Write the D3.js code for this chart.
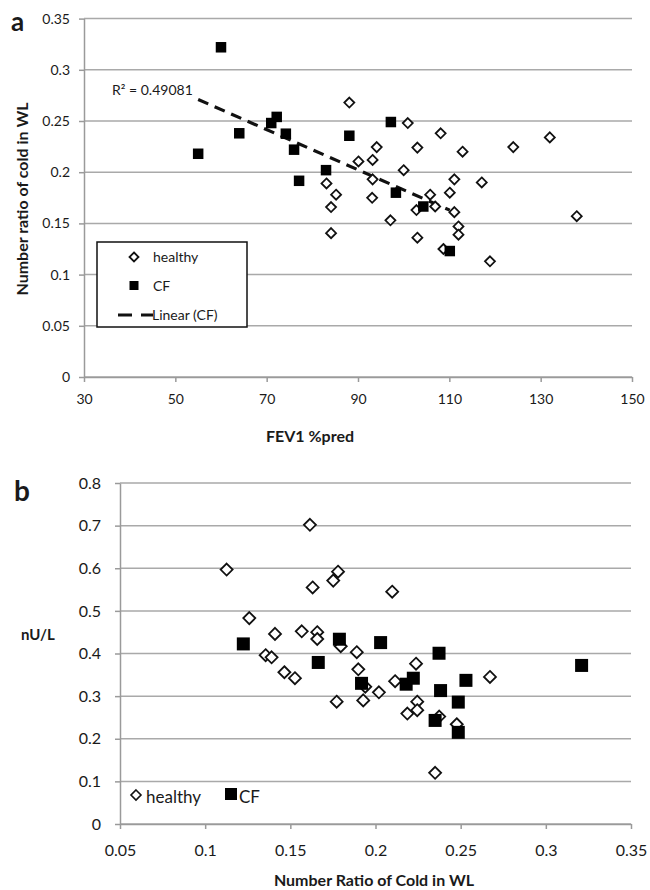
<!DOCTYPE html>
<html>
<head>
<meta charset="utf-8">
<script src="https://cdn.jsdelivr.net/npm/d3@7/dist/d3.min.js"></script>
<style>
  html, body { margin: 0; padding: 0; background: #fff; }
  svg { display: block; }
  text { font-family: Lato, "Open Sans", sans-serif; fill: #1a1a1a; }
</style>
</head>
<body>
<svg id="chart" width="650" height="890"></svg>
<script>
// ---------- Data (panel a) ----------
const fevTicks = [30, 50, 70, 90, 110, 130, 150];
const ratioTicksA = [0, 0.05, 0.1, 0.15, 0.2, 0.25, 0.3, 0.35];

const healthyFev   = [88.1, 100.9, 94.1, 103.0, 90.1, 93.2, 100.0, 83.1, 93.2, 85.2, 84.1, 84.1, 93.1, 97.1, 103.0, 102.8, 105.8, 108.1, 112.9, 124.0, 132.0, 111.1, 117.1, 110.1, 106.9, 111.1, 112.0, 112.0, 108.7, 118.9, 137.9];
const healthyRatio = [0.268, 0.248, 0.2245, 0.224, 0.2105, 0.212, 0.202, 0.189, 0.193, 0.178, 0.166, 0.1405, 0.175, 0.153, 0.136, 0.163, 0.178, 0.238, 0.220, 0.2245, 0.234, 0.193, 0.190, 0.180, 0.1665, 0.161, 0.147, 0.139, 0.125, 0.113, 0.157];

const cfFev   = [60, 55, 64, 71, 72.2, 74.2, 76, 77.1, 83, 88.1, 97.2, 98.3, 104.3, 110.1];
const cfRatio = [0.322, 0.218, 0.238, 0.248, 0.254, 0.2376, 0.222, 0.1916, 0.202, 0.2356, 0.249, 0.180, 0.1665, 0.123];

const r2Label = "R\u00B2 = 0.49081";

// ---------- Data (panel b) ----------
const ratioTicksB = [0.05, 0.1, 0.15, 0.2, 0.25, 0.3, 0.35];
const nuTicks = [0, 0.1, 0.2, 0.3, 0.4, 0.5, 0.6, 0.7, 0.8];

const healthyRatioB = [0.1126, 0.1615, 0.1631, 0.1259, 0.141, 0.1567, 0.1658, 0.1658, 0.1355, 0.139, 0.1465, 0.1527, 0.178, 0.1752, 0.2098, 0.1796, 0.189, 0.1899, 0.1772, 0.1928, 0.202, 0.2115, 0.2238, 0.2245, 0.2245, 0.2187, 0.2374, 0.2672, 0.2477, 0.235, 0.194];
const healthyNu     = [0.597, 0.702, 0.555, 0.483, 0.446, 0.452, 0.450, 0.434, 0.396, 0.391, 0.356, 0.342, 0.592, 0.571, 0.545, 0.417, 0.403, 0.363, 0.287, 0.290, 0.309, 0.335, 0.376, 0.287, 0.267, 0.259, 0.252, 0.345, 0.234, 0.120, 0.322];

const cfRatioB = [0.1224, 0.1664, 0.1788, 0.203, 0.1918, 0.218, 0.2222, 0.2373, 0.2382, 0.235, 0.2486, 0.2531, 0.2486, 0.321];
const cfNu     = [0.4225, 0.379, 0.4335, 0.4256, 0.330, 0.328, 0.342, 0.4006, 0.313, 0.243, 0.286, 0.337, 0.215, 0.372];

// ---------- Drawing ----------
const svg = d3.select("#chart");
const gridColor = "#a9a9a9";
const axisColor = "#9a9a9a";

function diamondPath(r) { return `M0,${-r}L${r},0L0,${r}L${-r},0Z`; }

function drawFrame(g, x, y, xt, yt, fmtX, fmtY, opts) {
  const [x0, x1] = x.range();
  // horizontal gridlines
  g.append("g").selectAll("line").data(yt).join("line")
    .attr("x1", x0).attr("x2", x1)
    .attr("y1", d => y(d)).attr("y2", d => y(d))
    .attr("stroke", gridColor).attr("stroke-width", 1.5);
  // y axis
  const ya = g.append("g").attr("transform", `translate(${x0},0)`)
    .call(d3.axisLeft(y).tickValues(yt).tickSize(5).tickSizeOuter(0).tickPadding(opts.yPad).tickFormat(fmtY));
  // x axis
  const xa = g.append("g").attr("transform", `translate(0,${y.range()[0]})`)
    .call(d3.axisBottom(x).tickValues(xt).tickSize(5).tickSizeOuter(0).tickPadding(opts.xPad).tickFormat(fmtX));
  [ya, xa].forEach(a => {
    a.select(".domain").attr("stroke", axisColor).attr("stroke-width", 1.5);
    a.selectAll(".tick line").attr("stroke", axisColor).attr("stroke-width", 1.5);
    a.selectAll(".tick text").style("font-family", "Lato, 'Open Sans', sans-serif")
      .style("font-size", opts.fs + "px").attr("fill", "#1a1a1a");
  });
}

const fmt = d => String(+d.toFixed(2));

// ===== Panel a =====
const xA = d3.scaleLinear().domain([30, 150]).range([84, 632]);
const yA = d3.scaleLinear().domain([0, 0.35]).range([377, 18.6]);
const gA = svg.append("g");
drawFrame(gA, xA, yA, fevTicks, ratioTicksA, fmt, fmt, { yPad: 9, xPad: 12, fs: 14 });

// trend line (least squares on CF data)
const mx = d3.mean(cfFev), my = d3.mean(cfRatio);
const slope = d3.sum(cfFev, (v, i) => (v - mx) * (cfRatio[i] - my)) / d3.sum(cfFev, v => (v - mx) ** 2);
const icpt = my - slope * mx;
const fx = d3.extent(cfFev);
gA.append("line")
  .attr("x1", xA(fx[0])).attr("y1", yA(icpt + slope * fx[0]))
  .attr("x2", xA(fx[1])).attr("y2", yA(icpt + slope * fx[1]))
  .attr("stroke", "#111").attr("stroke-width", 3.2).attr("stroke-dasharray", "11,7");

// healthy diamonds
gA.append("g").selectAll("path").data(healthyFev).join("path")
  .attr("d", diamondPath(5))
  .attr("transform", (d, i) => `translate(${xA(d)},${yA(healthyRatio[i])})`)
  .attr("fill", "#fff").attr("stroke", "#111").attr("stroke-width", 1.8);

// CF squares
const sA = 10.5;
gA.append("g").selectAll("rect").data(cfFev).join("rect")
  .attr("x", d => xA(d) - sA / 2).attr("y", (d, i) => yA(cfRatio[i]) - sA / 2)
  .attr("width", sA).attr("height", sA).attr("fill", "#000");

gA.append("text").attr("x", 112).attr("y", 95).style("font-size", "14px").text(r2Label);

// legend a
const lg = gA.append("g");
lg.append("rect").attr("x", 97).attr("y", 242).attr("width", 150).attr("height", 85)
  .attr("fill", "#fff").attr("stroke", "#111").attr("stroke-width", 1.5);
lg.append("path").attr("d", diamondPath(4.5)).attr("transform", "translate(134,257)")
  .attr("fill", "#fff").attr("stroke", "#111").attr("stroke-width", 1.8);
lg.append("text").attr("x", 153).attr("y", 262).style("font-size", "14px").text("healthy");
lg.append("rect").attr("x", 129.5).attr("y", 281).attr("width", 9).attr("height", 9).attr("fill", "#000");
lg.append("text").attr("x", 153).attr("y", 291).style("font-size", "14px").text("CF");
lg.append("line").attr("x1", 118).attr("x2", 153).attr("y1", 315).attr("y2", 315)
  .attr("stroke", "#111").attr("stroke-width", 3).attr("stroke-dasharray", "14,9");
lg.append("text").attr("x", 152).attr("y", 320).style("font-size", "14px").text("Linear (CF)");

// titles a
svg.append("text").attr("x", 11).attr("y", 31).style("font-size", "26px").style("font-weight", "700").text("a");
svg.append("text").attr("transform", "translate(28,199) rotate(-90)").attr("text-anchor", "middle")
  .style("font-size", "16px").style("font-weight", "700").text("Number ratio of cold in  WL");
svg.append("text").attr("x", 310).attr("y", 442).attr("text-anchor", "middle")
  .style("font-size", "16px").style("font-weight", "700").text("FEV1 %pred");

// ===== Panel b =====
const xB = d3.scaleLinear().domain([0.05, 0.35]).range([120, 631]);
const yB = d3.scaleLinear().domain([0, 0.8]).range([824, 483]);
const gB = svg.append("g");
drawFrame(gB, xB, yB, ratioTicksB, nuTicks, fmt, fmt, { yPad: 14, xPad: 16, fs: 16 });

gB.append("g").selectAll("path").data(healthyRatioB).join("path")
  .attr("d", diamondPath(6))
  .attr("transform", (d, i) => `translate(${xB(d)},${yB(healthyNu[i])})`)
  .attr("fill", "#fff").attr("stroke", "#111").attr("stroke-width", 1.8);

const sB = 13;
gB.append("g").selectAll("rect").data(cfRatioB).join("rect")
  .attr("x", d => xB(d) - sB / 2).attr("y", (d, i) => yB(cfNu[i]) - sB / 2)
  .attr("width", sB).attr("height", sB).attr("fill", "#000");

// legend b
gB.append("path").attr("d", diamondPath(5)).attr("transform", "translate(136,795)")
  .attr("fill", "#fff").attr("stroke", "#111").attr("stroke-width", 1.6);
gB.append("text").attr("x", 146).attr("y", 803).style("font-size", "17px").text("healthy");
gB.append("rect").attr("x", 225).attr("y", 788).attr("width", 12).attr("height", 12).attr("fill", "#000");
gB.append("text").attr("x", 239).attr("y", 803).style("font-size", "17px").text("CF");

svg.append("text").attr("x", 14).attr("y", 501).style("font-size", "28px").style("font-weight", "700").text("b");
svg.append("text").attr("x", 38).attr("y", 640).attr("text-anchor", "middle")
  .style("font-size", "15px").style("font-weight", "700").text("nU/L");
svg.append("text").attr("x", 374).attr("y", 886).attr("text-anchor", "middle")
  .style("font-size", "16px").style("font-weight", "700").text("Number Ratio of Cold in WL");
</script>
</body>
</html>
